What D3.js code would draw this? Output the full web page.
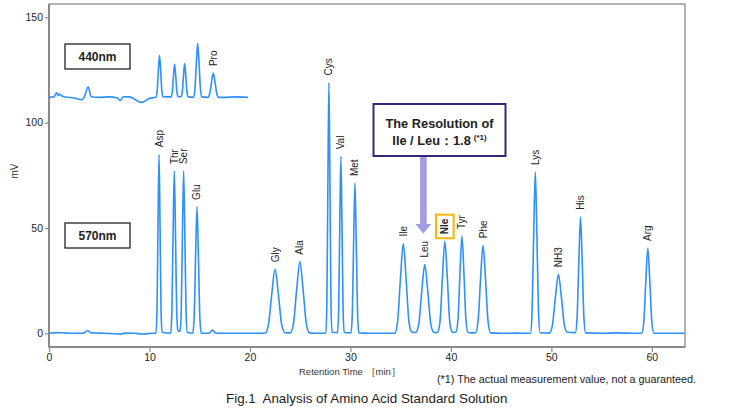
<!DOCTYPE html>
<html>
<head>
<meta charset="utf-8">
<script src="https://cdn.jsdelivr.net/npm/d3@7"></script>
<style>
  body { margin: 0; background: #fff; }
  svg text { font-family: "Liberation Sans", Arial, sans-serif; fill: #222; }
  .axis path, .axis line { stroke: #8a8a8a; }
  .axis path { stroke-width: 2; }
  .axis line { stroke-width: 1.2; }
  .axis text { font-size: 10.5px; fill: #222; }
  .trace { fill: none; stroke: #2e90fa; stroke-width: 1.6; stroke-linejoin: round; }
  .peak-label { font-size: 10px; }
</style>
</head>
<body>
<div id="chart"></div>
<script>
// ---- data ----
// 570nm peaks: name, retention time [min], height [mV]
const peakNames   = ['Asp', 'Thr', 'Ser', 'Glu', 'Gly', 'Ala', 'Cys', 'Val', 'Met', 'Ile', 'Leu', 'Nle', 'Tyr', 'Phe', 'Lys', 'NH3', 'His', 'Arg'];
const peakTimes   = [10.95, 12.47, 13.4, 14.73, 22.5, 24.97, 27.86, 29.05, 30.45, 35.26, 37.4, 39.4, 41.1, 43.2, 48.4, 50.7, 52.9, 59.6];
const peakHeights = [85, 77, 77, 60, 30.4, 34, 119, 84, 71.3, 42.6, 32.6, 43.7, 46.2, 41.8, 76.6, 28, 55.3, 40.5];

// 440nm inset peak label (height above inset baseline)
const insetPeakNames   = ['Pro'];
const insetPeakTimes   = [16.35];
const insetPeakHeights = [11.5];

// 570nm trace [time, mV]
const trace570 = [
  [0, 0], [0.8, 0.3], [1.5, 0.2], [2.5, 0], [3.4, 0], [3.85, 1.3], [4.2, 0.2], [5, 0.1], [6, -0.1],
  [7.2, -0.4], [7.5, 0.1], [8.5, 0], [9.3, -0.3], [10.3, 0], [10.65, 0],
  [10.75, 11.5], [10.85, 52], [10.95, 85], [11.05, 52], [11.15, 11.5], [11.25, 0.5], [12.11, 0],
  [12.23, 10.4], [12.35, 47], [12.47, 77], [12.59, 47], [12.71, 10.4], [12.83, 1.5], [12.93, 1], [13.04, 1.2],
  [13.16, 10.4], [13.28, 47], [13.4, 77], [13.52, 47], [13.64, 10.4], [13.76, 0.5], [14.31, 0],
  [14.45, 8.1], [14.59, 36.6], [14.73, 60], [14.87, 36.6], [15.01, 8.1], [15.15, 0],
  [15.9, 0], [16.25, 1.5], [16.6, 0.1], [17, 0], [19, 0], [21, 0], [21.51, 0],
  [21.84, 4.1], [22.17, 18.5], [22.5, 30.4], [22.83, 18.5], [23.16, 4.1], [23.49, 0.3], [24.01, 0.2],
  [24.33, 4.6], [24.65, 20.7], [24.97, 34], [25.29, 20.7], [25.61, 4.6], [25.93, 0.2], [26.5, 0], [27.56, 0],
  [27.66, 16], [27.76, 72.6], [27.86, 119], [27.96, 72.6], [28.06, 16], [28.16, 0.5], [28.72, 0.3],
  [28.83, 11.3], [28.94, 51.2], [29.05, 84], [29.16, 51.2], [29.27, 11.3], [29.38, 0.4], [30.06, 0.2],
  [30.19, 9.6], [30.32, 43.5], [30.45, 71.3], [30.58, 43.5], [30.71, 9.6], [30.84, 0.2], [32, 0], [34.42, 0],
  [34.7, 5.8], [34.98, 26], [35.26, 42.6], [35.54, 26], [35.82, 5.8], [36.1, 0.6], [36.3, 0.4], [36.5, 0.5],
  [36.8, 4.4], [37.1, 19.9], [37.4, 32.6], [37.7, 19.9], [38, 4.4], [38.3, 0.5], [38.5, 0.3], [38.68, 0.5],
  [38.92, 5.9], [39.16, 26.7], [39.4, 43.7], [39.64, 26.7], [39.88, 5.9], [40.12, 0.6], [40.3, 0.4], [40.5, 0.6],
  [40.7, 6.2], [40.9, 28.2], [41.1, 46.2], [41.3, 28.2], [41.5, 6.2], [41.7, 0.4], [42.1, 0.2], [42.45, 0.3],
  [42.7, 5.6], [42.95, 25.5], [43.2, 41.8], [43.45, 25.5], [43.7, 5.6], [43.95, 0.2], [45, 0], [46.5, 0.1], [47.92, 0],
  [48.08, 10.3], [48.24, 46.7], [48.4, 76.6], [48.56, 46.7], [48.72, 10.3], [48.88, 0.3], [49.8, 0.1],
  [50.1, 3.8], [50.4, 17.1], [50.7, 28], [51, 17.1], [51.3, 3.8], [51.6, 0.5], [52.39, 0.3],
  [52.56, 7.5], [52.73, 33.7], [52.9, 55.3], [53.07, 33.7], [53.24, 7.5], [53.41, 0.2], [55, 0], [56.5, 0.2], [58.5, 0], [59, 0],
  [59.2, 5.5], [59.4, 24.7], [59.6, 40.5], [59.8, 24.7], [60, 5.5], [60.2, 0], [61, 0], [63.3, 0]
];

// 440nm trace [time, mV above the inset baseline]
const trace440 = [
  [0, 0], [0.5, 0.3], [0.77, 2.2], [0.92, 0.8], [1.05, 1.5], [1.3, 0.6], [1.6, 0.2], [2.5, -0.3], [3.25, -1.1], [3.5, 0],
  [3.9, 5], [4.2, 0.3], [5, 0], [6, 0.2], [6.8, -0.3], [7.1, -1.5], [7.4, 0.3], [8, 0.2], [9.2, -2.4], [10, -0.5], [10.64, 0],
  [10.76, 2.7], [10.88, 12.2], [11, 20], [11.12, 12.2], [11.24, 2.7], [11.36, 0.3], [12.14, 0.2],
  [12.26, 2.1], [12.38, 9.6], [12.5, 15.7], [12.62, 9.6], [12.74, 2.1], [12.86, 0.3], [13.14, 0.3],
  [13.26, 2.2], [13.38, 9.8], [13.5, 16], [13.62, 9.8], [13.74, 2.2], [13.86, 0.2], [14.38, 0],
  [14.52, 3.5], [14.66, 15.7], [14.8, 25.7], [14.94, 15.7], [15.08, 3.5], [15.22, 0.2], [15.81, 0],
  [15.99, 1.6], [16.17, 7], [16.35, 11.5], [16.53, 7], [16.71, 1.6], [16.89, 0], [17.5, 0], [18.5, 0.2], [19.8, 0]
];

const xTicks = [0, 10, 20, 30, 40, 50, 60];
const yTicks = [0, 50, 100, 150];

// ---- layout ----
const width = 730, height = 417;
const plot = { left: 49, right: 685, top: 4, bottom: 347 };
const insetBase = 112;   // mV offset of the 440nm trace
const labelGap = 7;

const svg = d3.select('#chart').append('svg')
  .attr('width', width)
  .attr('height', height);

// scales
const x = d3.scaleLinear([0, 63.3], [plot.left, plot.right]);
const y = d3.scaleLinear([-6.5, 156.3], [plot.bottom, plot.top]);

// frame
svg.append('rect')
  .attr('x', plot.left).attr('y', plot.top)
  .attr('width', plot.right - plot.left).attr('height', plot.bottom - plot.top)
  .attr('fill', 'none').attr('stroke', '#9a9a9a').attr('stroke-width', 1.5);

// axes
svg.append('g')
  .attr('class', 'axis')
  .attr('transform', `translate(${plot.left},0)`)
  .call(d3.axisLeft(y).tickValues(yTicks).tickSize(4).tickSizeOuter(0).tickPadding(2))
  .select('.domain').attr('d', `M0,${plot.top}V${plot.bottom}`);

svg.append('g')
  .attr('class', 'axis')
  .attr('transform', `translate(0,${plot.bottom})`)
  .call(d3.axisBottom(x).tickValues(xTicks).tickSize(5).tickSizeOuter(0).tickPadding(2))
  .select('.domain').attr('d', `M${plot.left},0H${plot.right}`);

// traces
const line = d3.line()
  .x(d => x(d[0]))
  .y(d => y(d[1]))
  .curve(d3.curveMonotoneX);

svg.append('path').attr('class', 'trace').attr('d', line(trace570));
svg.append('path').attr('class', 'trace')
  .attr('d', line(trace440.map(d => [d[0], d[1] + insetBase])));

// peak labels
function addLabels(names, times, heights, base) {
  return svg.append('g').selectAll('text')
    .data(names)
    .join('text')
    .attr('class', 'peak-label')
    .attr('transform', (d, i) => `translate(${x(times[i])},${y(heights[i] + base) - labelGap}) rotate(-90)`)
    .attr('dy', '0.35em')
    .style('font-weight', d => d === 'Nle' ? 'bold' : null)
    .text(d => d);
}
const labels = addLabels(peakNames, peakTimes, peakHeights, 0);
addLabels(insetPeakNames, insetPeakTimes, insetPeakHeights, insetBase);

// orange box round the internal standard (Nle)
labels.filter(d => d === 'Nle').each(function(d) {
  const i = peakNames.indexOf(d);
  const len = this.getComputedTextLength();
  const cx = x(peakTimes[i]), y0 = y(peakHeights[i]) - labelGap;
  svg.append('rect')
    .attr('x', cx - 8.8).attr('y', y0 - len - 4)
    .attr('width', 17.6).attr('height', len + 8)
    .attr('fill', 'none').attr('stroke', '#f7b500').attr('stroke-width', 2);
});

// wavelength boxes
function wavelengthBox(label, bx, by) {
  svg.append('rect')
    .attr('x', bx).attr('y', by).attr('width', 65).attr('height', 25)
    .attr('fill', '#fff').attr('stroke', '#222').attr('stroke-width', 1.3);
  svg.append('text')
    .attr('x', bx + 32.5).attr('y', by + 17)
    .attr('text-anchor', 'middle')
    .style('font-size', '12px').style('font-weight', 'bold')
    .text(label);
}
wavelengthBox('440nm', 65, 44);
wavelengthBox('570nm', 65, 223);

// resolution callout
const arrowX = x(peakTimes[peakNames.indexOf('Leu')]) - 1.4;
svg.append('path')
  .attr('d', `M${arrowX - 3.3},150 V224 H${arrowX - 8} L${arrowX},233.5 L${arrowX + 8},224 H${arrowX + 3.3} V150 Z`)
  .attr('fill', '#a19de2');

svg.append('rect')
  .attr('x', 373.5).attr('y', 104).attr('width', 132).attr('height', 52)
  .attr('fill', '#fff').attr('stroke', '#2e2a78').attr('stroke-width', 2);

svg.append('text')
  .attr('x', 439.5).attr('y', 127.5)
  .attr('text-anchor', 'middle')
  .style('font-size', '12.8px').style('font-weight', 'bold')
  .text('The Resolution of');

const res = svg.append('text')
  .attr('x', 439.5).attr('y', 144.5)
  .attr('text-anchor', 'middle')
  .style('font-size', '12.8px').style('font-weight', 'bold');
res.append('tspan').text('Ile / Leu：1.8');
res.append('tspan').attr('dx', 3).attr('dy', -5).style('font-size', '8px').text('(*1)');

// axis titles and notes
svg.append('text')
  .attr('transform', 'translate(18,171) rotate(-90)')
  .attr('text-anchor', 'middle')
  .style('font-size', '10px').style('fill', '#333')
  .text('mV');

svg.append('text')
  .attr('x', 299).attr('y', 375)
  .style('font-size', '9.5px').style('fill', '#333')
  .text('Retention Time ［min］');

svg.append('text')
  .attr('x', 437).attr('y', 382.5)
  .style('font-size', '10.8px')
  .text('(*1) The actual measurement value, not a guaranteed.');

svg.append('text')
  .attr('x', 226).attr('y', 402.5)
  .style('font-size', '13.4px').style('white-space', 'pre')
  .text('Fig.1  Analysis of Amino Acid Standard Solution');
</script>
</body>
</html>
